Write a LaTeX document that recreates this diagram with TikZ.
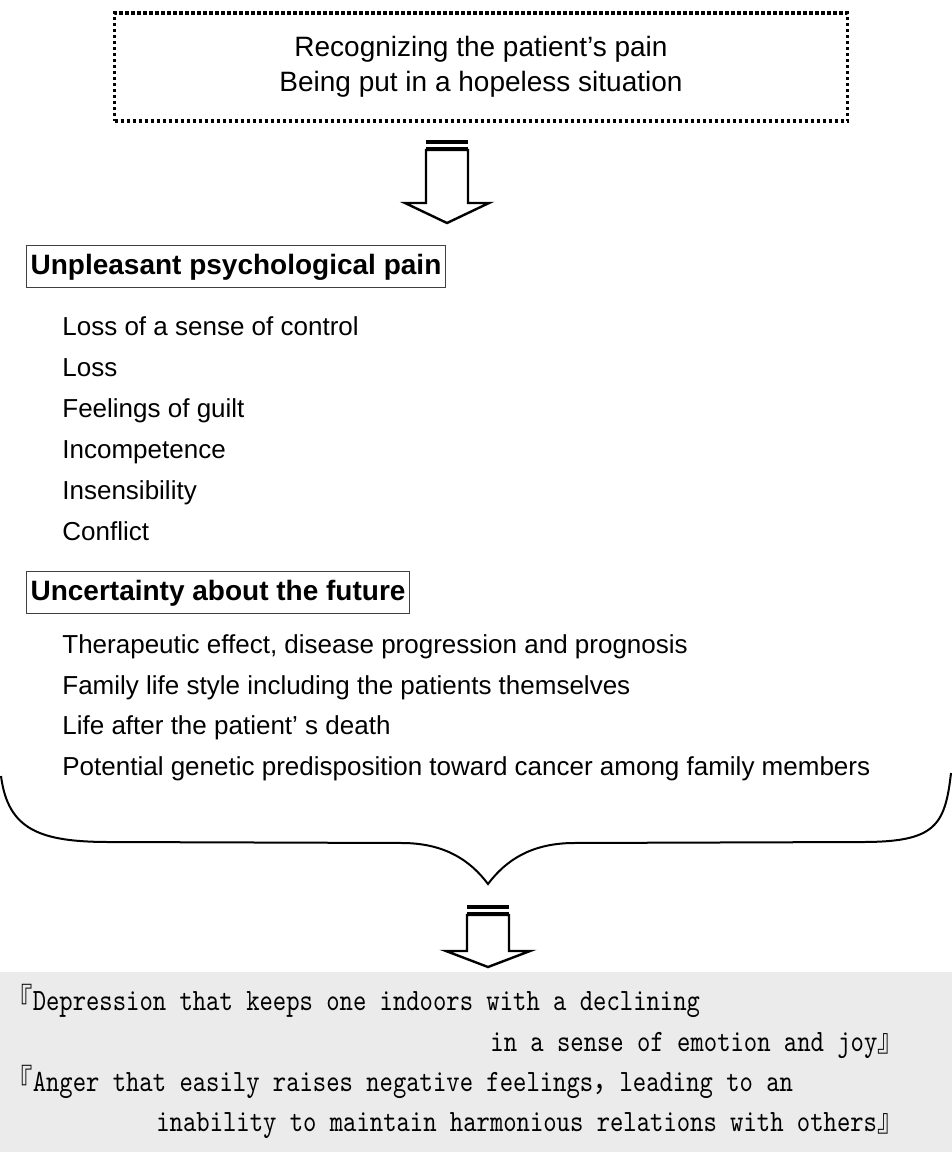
\documentclass[tikz,border=0pt]{standalone}
\usepackage{fontspec}
\setmainfont{Liberation Sans}
\newfontfamily\jpmono[FakeStretch=0.82]{lmmono10-regular.otf}
\newfontfamily\cjk[FakeStretch=0.85]{Noto Sans CJK JP}
\usetikzlibrary{arrows.meta}
\definecolor{panelgray}{HTML}{EBEBEB}

\tikzset{
  topbox/.style={draw, line width=1.6pt, dash pattern=on 1.6pt off 1.4pt,
                 align=center, minimum width=366.5pt, minimum height=54pt,
                 font=\fontsize{14}{17.5}\selectfont},
  headbox/.style={draw=black!75, line width=0.6pt, anchor=north west,
                  inner xsep=2pt, minimum height=21pt,
                  text height=10.5pt, text depth=3pt,
                  font=\bfseries\fontsize{14}{16}\selectfont},
  item/.style={anchor=west, inner sep=0pt, text height=9.5pt, text depth=3pt,
               font=\fontsize{13}{15}\selectfont},
  monoline/.style={anchor=west, inner sep=0pt, text height=10pt, text depth=3pt,
                   font=\jpmono\fontsize{15.5}{18}\selectfont},
  blockarrow/.style={draw, line width=1.2pt, fill=white, line join=miter}
}

\begin{document}
\begin{tikzpicture}[x=0.5pt, y=-0.5pt]
\useasboundingbox (0,0) rectangle (952,1152);

\begin{scope}
    \node[topbox] (A) at (481,67) {Recognizing the patient's pain\\Being put in a hopeless situation};

    \node[headbox] (B) at (26,245) {Unpleasant psychological pain};
    \node[item] (B1) at (62,329) {Loss of a sense of control};
    \node[item] (B2) at (62,370) {Loss};
    \node[item] (B3) at (62,411) {Feelings of guilt};
    \node[item] (B4) at (62,452) {Incompetence};
    \node[item] (B5) at (62,493) {Insensibility};
    \node[item] (B6) at (62,534) {Conflict};

    \node[headbox] (C) at (26,571) {Uncertainty about the future};
    \node[item] (C1) at (62,647) {Therapeutic effect, disease progression and prognosis};
    \node[item] (C2) at (62,688) {Family life style including the patients themselves};
    \node[item] (C3) at (62,728) {Life after the patient’ s death};
    \node[item] (C4) at (62,769) {Potential genetic predisposition toward cancer among family members};
\end{scope}

% brace
\draw[line width=1pt] (1,776) .. controls (8,830) and (40,842) .. (110,842)
    -- (405,843) .. controls (445,844) and (470,860) .. (488,884)
    .. controls (506,860) and (531,844) .. (571,843)
    -- (862,842) .. controls (935,842) and (945,826) .. (951,773);

% block arrows
\begin{scope}[shift={(447,140)}]
    \fill (-21,0) rectangle (21,4);
    \fill (-21,7) rectangle (21,10);
    \draw[blockarrow] (-21,10) -- (-21,63) -- (-42,63) -- (0,83) -- (42,63) -- (21,63) -- (21,10) -- cycle;
\end{scope}
\begin{scope}[shift={(488,905)}]
    \fill (-21,0) rectangle (21,4);
    \fill (-21,7) rectangle (21,10);
    \draw[blockarrow] (-21,10) -- (-21,46) -- (-42,46) -- (0,62) -- (42,46) -- (21,46) -- (21,10) -- cycle;
\end{scope}

\fill[panelgray] (0,972) rectangle (952,1152);
\begin{scope}
    \node[monoline] (D1) at (6,1003) {{\cjk 『}Depression that keeps one indoors with a declining};
    \node[monoline] (D2) at (490,1044) {in a sense of emotion and joy{\cjk 』}};
    \node[monoline] (D3) at (6,1084) {{\cjk 『}Anger that easily raises negative feelings{\cjk ，}leading to an};
    \node[monoline] (D4) at (156,1124) {inability to maintain harmonious relations with others{\cjk 』}};
\end{scope}
\end{tikzpicture}
\end{document}
